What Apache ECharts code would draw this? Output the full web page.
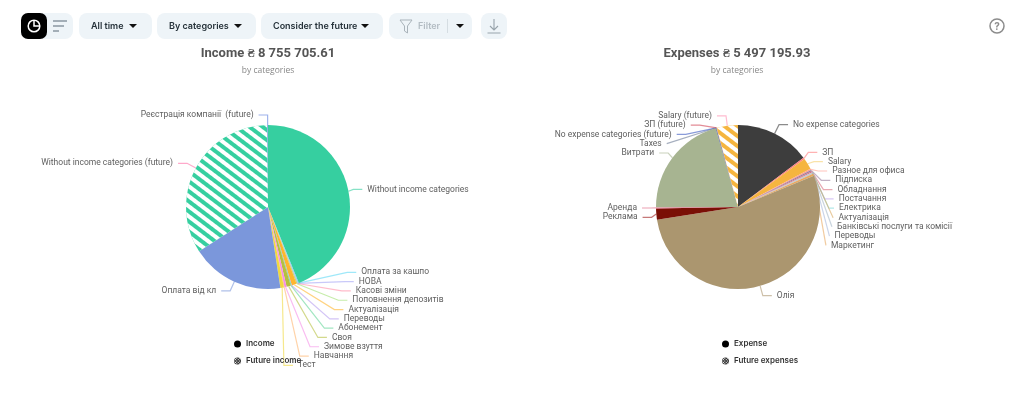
<!DOCTYPE html>
<html><head><meta charset="utf-8">
<script src="https://cdn.jsdelivr.net/npm/echarts@6/dist/echarts.min.js"></script>
<style>
html,body{margin:0;padding:0;background:#fff;width:1024px;height:393px;overflow:hidden;font-family:Inter,sans-serif}
#c{position:absolute;left:0;top:0;width:1024px;height:393px}
.b{position:absolute;top:13px;height:26px;background:#eef4f8;border-radius:8px;font:600 9px/26px Inter,sans-serif;color:#26323a;white-space:nowrap}
.b span{position:absolute;top:0}
.tri{position:absolute;top:11px;width:0;height:0;border-left:4px solid transparent;border-right:4px solid transparent;border-top:4px solid #111}
svg{position:absolute}
</style></head><body>
<div id="c"></div>
<div class="b" style="left:21px;width:52px"></div>
<div class="b" style="left:21px;width:26px;background:#000;border-radius:7px"></div>
<svg style="left:21px;top:13px" width="53" height="26"><circle cx="13" cy="13" r="5.8" fill="none" stroke="#fff" stroke-width="1.5"/><path d="M13 8V13H18.500" fill="none" stroke="#fff" stroke-width="1.5"/><path d="M32 8H46M32 13H43M32 18H38" stroke="#8b97a1" stroke-width="1.4"/></svg>
<div class="b" style="left:79px;width:73px"><span style="left:12px">All time</span><i class="tri" style="left:50px"></i></div>
<div class="b" style="left:157px;width:99px"><span style="left:12px">By categories</span><i class="tri" style="left:77px"></i></div>
<div class="b" style="left:261px;width:122px"><span style="left:12px">Consider the future</span><i class="tri" style="left:100px"></i></div>
<div class="b" style="left:389px;width:83px;color:#b3bcc3"><span style="left:29px">Filter</span><i class="tri" style="left:67px"></i></div>
<svg style="left:389px;top:13px" width="83" height="26"><path d="M11 7H23L18.500 13V20L15.500 18V13Z" fill="none" stroke="#a9b3ba"/><path d="M58.500 6V20" stroke="#d5dde2"/></svg>
<div class="b" style="left:481px;width:26px"></div>
<svg style="left:481px;top:13px" width="26" height="26"><path d="M13 6V16M9 13L13 17L17 13M6.500 20H19.500" fill="none" stroke="#98a3ab" stroke-width="1.1"/></svg>
<svg style="left:989px;top:18px" width="16" height="16"><circle cx="8" cy="8" r="7" fill="none" stroke="#8c8c8c" stroke-width="1.5"/></svg>
<div style="position:absolute;left:989px;top:18px;width:16px;text-align:center;font:700 10px/16px Inter,sans-serif;color:#8c8c8c">?</div>
<script>
var incomeCategories=["Without income categories","Оплата за кашпо","НОВА","Касові зміни","Поповнення депозитів","Актуалізація","Переводы","Абонемент","Своя","Зимове взуття","Навчання","Тест","Оплата від кл","Without income categories (future)","Реєстрація компанії  (future)"];
var incomeValues=[3843000,12000,7000,7000,14000,85000,8000,12000,73000,36000,10000,61000,1605000,2975000,12000];
var incomeColors=["#36cfa0","#5fd8f5","#a5a5f5","#ff8fa8","#9ee070","#ffb52e","#b59cf0","#66d59a","#b5c040","#f58fe8","#ffb570","#f0d840","#7b97db","#36cfa0","#7b97db"];
var incomeLineColors=["#36cfa0","#5fd8f5","#a5a5f5","#ff8fa8","#9ee070","#ffb52e","#b59cf0","#66d59a","#b5c040","#f58fe8","#ffb570","#f0d840","#7b97db","#ff6fa8","#5f80e0"];
var incomeFuture=[13];
var expenseCategories=["No expense categories","ЗП","Salary","Разное для офиса","Підписка","Обладнання","Постачання","Електрика","Актуалізація","Банківські послуги та комісії","Переводы","Маркетинг","Олія","Реклама","Аренда","Витрати","Taxes","No expense categories (future)","ЗП (future)","Salary (future)"];
var expenseValues=[809000,18000,122000,15000,15000,12000,3000,3000,3000,5000,5000,23000,2952000,122000,11000,1135000,8000,3000,3000,229000];
var expenseColors=["#3d3d3d","#ff7f7f","#f5b53f","#ff9f8f","#9a7f9f","#d9707f","#bfa5f0","#7fd8d8","#d8a860","#a5b8c8","#a8b8d8","#e8a860","#ab966f","#7a0f05","#e0607f","#a7b491","#6a7a95","#5a78c8","#d8606a","#f5b53f"];
var expenseLineColors=["#3d3d3d","#ff7f7f","#f5d06f","#ff9f8f","#9a7f9f","#d9707f","#bfa5f0","#7fd8d8","#d8a860","#a5b8c8","#a8b8d8","#e8a860","#ab966f","#a02020","#e0607f","#a7b491","#6a7a95","#3a58c0","#d04050","#ff8fb0"];
var expenseFuture=[19];

function decal(){return {symbol:'rect',symbolSize:1,rotation:0.65,dashArrayX:[1,0],dashArrayY:[4,4],color:'#fff'};}
function pieData(names,vals,cols,lines,fut){
  return names.map(function(n,i){
    var st={color:cols[i]};
    if(fut.indexOf(i)>=0) st.decal=decal();
    return {name:n,value:vals[i],itemStyle:st,labelLine:{lineStyle:{color:lines[i],opacity:0.6,width:1.2}}};
  });
}
function pie(cx,data){
  return {type:'pie',left:0,top:0,width:1024,height:370,center:[cx,207],radius:82,startAngle:90,clockwise:true,data:data,animation:false,
    label:{fontFamily:'Roboto',fontSize:8.5,lineHeight:9.3,minMargin:0,color:'#606060'},
    labelLine:{length:10,length2:9},
    emphasis:{disabled:true}};
}
function dummy(name,color,d){
  return {type:'pie',name:name,data:[],showEmptyCircle:false,center:[0,0],radius:0,itemStyle:d?{color:color,decal:{symbol:'rect',symbolSize:1,rotation:Math.PI/4,dashArrayX:[1,1],dashArrayY:[1,1],color:'#fff'}}:{color:color}};
}
function legend(left,names){
  return {left:left,top:335,orient:'vertical',itemWidth:7,itemHeight:7,itemGap:9,icon:'circle',selectedMode:false,
    data:names,textStyle:{fontFamily:'Inter',fontSize:8,fontWeight:600,color:'#333'}};
}
function title(text,x){
  return {text:text,subtext:'by categories',left:x,textAlign:'center',top:42,itemGap:6,textStyle:{fontFamily:'Roboto',fontSize:13,fontWeight:700,color:'#555'},subtextStyle:{fontFamily:'Open Sans',fontSize:8.5,color:'#888'}};
}
var chart=echarts.init(document.getElementById('c'),null,{renderer:'canvas'});
chart.setOption({
  animation:false,
  aria:{enabled:true,decal:{show:false}},
  title:[title('Income ₴ 8 755 705.61',263),title('Expenses ₴ 5 497 195.93',732)],
  legend:[legend(229,['Income','Future income']),legend(717,['Expense','Future expenses'])],
  series:[
    pie(268,pieData(incomeCategories,incomeValues,incomeColors,incomeLineColors,incomeFuture)),
    pie(738,pieData(expenseCategories,expenseValues,expenseColors,expenseLineColors,expenseFuture)),
    dummy('Income','#000'),dummy('Future income','#333',true),
    dummy('Expense','#000'),dummy('Future expenses','#333',true)
  ]
});
</script></body></html>
